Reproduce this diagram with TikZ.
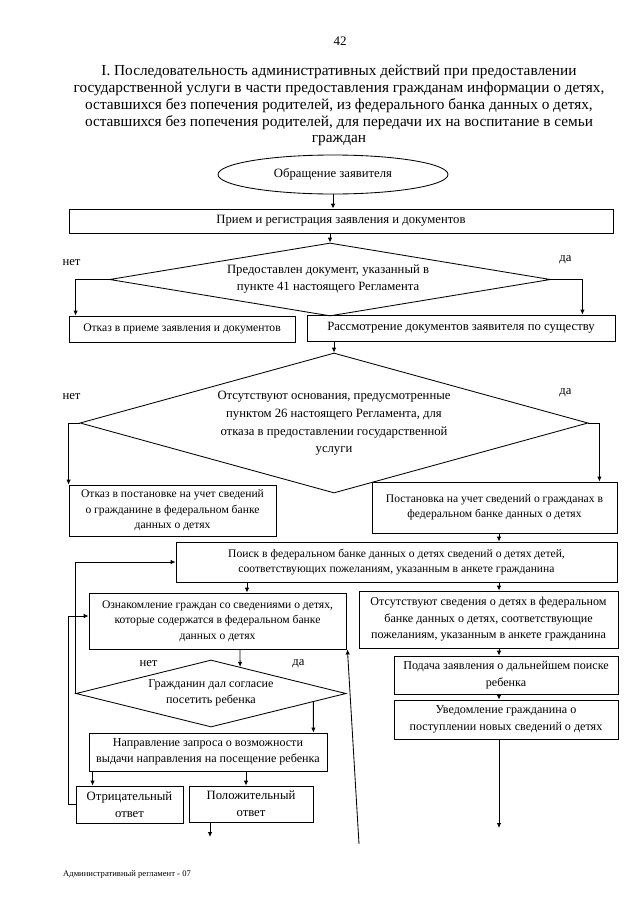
\documentclass[tikz,border=0pt]{standalone}
\usepackage{fontspec}
\setmainfont{Liberation Serif}
\usetikzlibrary{shapes.geometric,arrows.meta,calc}
\newcommand{\fT}{\fontsize{15.3}{16.9}\selectfont}
\newcommand{\fB}{\fontsize{12.7}{17}\selectfont}
\newcommand{\fBB}{\fontsize{12.7}{17.6}\selectfont}
\newcommand{\fM}{\fontsize{12.1}{16.5}\selectfont}
\newcommand{\fS}{\fontsize{11.6}{15.5}\selectfont}
\begin{document}
\begin{tikzpicture}[x=1pt,y=-1pt,
  box/.style={draw, line width=0.85pt, inner sep=0pt, align=center, font=\fS},
  arr/.style={line width=0.85pt, -{Latex[length=5pt,width=4.5pt]}},
  lbl/.style={inner sep=0pt, font=\fS},
  dia/.style={draw, line width=0.85pt, shape=diamond, inner sep=0pt},
]
\path[use as bounding box, fill=white] (0,0) rectangle (640,905);

\node[lbl, font=\fontsize{13}{15}\selectfont] (pg) at (340,41) {42};
\node[lbl, align=center, font=\fT] (title) at (339,105.5) {I. Последовательность административных действий при предоставлении\\государственной услуги в части предоставления гражданам информации о детях,\\оставшихся без попечения родителей, из федерального банка данных о детях,\\оставшихся без попечения родителей, для передачи их на воспитание в семьи\\граждан};

\node[draw, ellipse, line width=0.85pt, minimum width=230pt, minimum height=39pt, inner sep=0pt, font=\fB] (ell) at (333,174.5) {Обращение заявителя};
\node[box, font=\fB, minimum width=544pt, minimum height=24pt] (box1) at (341,221) {Прием и регистрация заявления и документов};
\node[dia, minimum width=441pt, minimum height=73pt] (dia1) at (330,279.5) {};
\node[lbl, font=\fB, align=center] (dia1t) at (328,279) {Предоставлен документ, указанный в\\пункте 41 настоящего Регламента};
\node[lbl,font=\fB] (no1) at (71.5,263) {нет};
\node[lbl,font=\fB] (yes1) at (565.5,260) {да};
\node[box, minimum width=226pt, minimum height=26pt] (b2a) at (182,329) {Отказ в приеме заявления и документов};
\node[box, font=\fB, minimum width=308pt, minimum height=26pt] (b2b) at (461,328) {Рассмотрение документов заявителя по существу};

\node[dia, minimum width=508pt, minimum height=140pt] (dia2) at (334,423) {};
\node[lbl, font=\fBB, align=center] (dia2t) at (334,423.5) {Отсутствуют основания, предусмотренные\\пунктом 26 настоящего Регламента, для\\отказа в предоставлении государственной\\услуги};
\node[lbl,font=\fB] (no2) at (71.5,397) {нет};
\node[lbl,font=\fB] (yes2) at (565.5,393) {да};
\node[box, minimum width=207pt, minimum height=51pt] (b3a) at (172.5,510.5) {Отказ в постановке на учет сведений\\о гражданине в федеральном банке\\данных о детях};
\node[box, minimum width=245pt, minimum height=51pt] (b3b) at (494.5,507.5) {Постановка на учет сведений о гражданах в\\федеральном банке данных о детях};

\node[box, minimum width=441pt, minimum height=40pt] (poisk) at (396.5,562) {Поиск в федеральном банке данных о детях сведений о детях детей,\\соответствующих пожеланиям, указанным в анкете гражданина};
\node[box, minimum width=257pt, minimum height=56pt] (oznak) at (217.5,621) {Ознакомление граждан со сведениями о детях,\\которые содержатся в федеральном банке\\данных о детях};
\node[box, font=\fM, minimum width=259pt, minimum height=57pt] (otsut) at (488.5,619.5) {Отсутствуют сведения о детях в федеральном\\банке данных о детях, соответствующие\\пожеланиям, указанным в анкете гражданина};
\node[box, font=\fM, minimum width=224pt, minimum height=38pt] (podacha) at (506,675) {Подача заявления о дальнейшем поиске\\ребенка};
\node[box, font=\fM, minimum width=224pt, minimum height=39pt] (uved) at (506,719.5) {Уведомление гражданина о\\поступлении новых сведений о детях};

\node[dia, minimum width=270pt, minimum height=67pt] (dia3) at (211,693.5) {};
\node[lbl, font=\fM, align=center] (dia3t) at (211,693) {Гражданин дал согласие\\посетить ребенка};
\node[lbl,font=\fB] (no3) at (148.5,664) {нет};
\node[lbl,font=\fB] (yes3) at (298.5,664) {да};
\node[box, font=\fM, minimum width=238pt, minimum height=38pt] (napr) at (208,752) {Направление запроса о возможности\\выдачи направления на посещение ребенка};
\node[box, font=\fB, minimum width=107pt, minimum height=37pt] (otric) at (129.5,804.5) {Отрицательный\\ответ};
\node[box, font=\fB, minimum width=124pt, minimum height=36pt] (polozh) at (251,804) {Положительный\\ответ};

\node[lbl, anchor=west, font=\fontsize{8.6}{10}\selectfont] (foot) at (63,874) {Административный регламент - 07};

\coordinate (endA) at (210,837);
\coordinate (endB) at (499,828);
\coordinate (loopS) at (359,844);

\draw[arr] (ell.south) -- (ell.south |- box1.north);
\draw[arr] (dia1.north |- box1.south) -- (dia1.north);
\draw[arr] (dia1.west) -| ([xshift=7pt]b2a.north west);
\draw[arr] (dia1.east) -| ([xshift=-33pt]b2b.north east);
\draw[arr] (dia2.north |- b2b.south) -- (dia2.north);
\draw[arr] (dia2.west) -| (b3a.north west);
\draw[arr] (dia2.east) -| ([xshift=-18pt]b3b.north east);
\draw[arr] ([xshift=4.5pt]b3b.south) -- ([xshift=4.5pt]b3b.south |- poisk.north);
\draw[arr] ([xshift=29.5pt]oznak.north |- poisk.south) -- ([xshift=29.5pt]oznak.north);
\draw[arr] ([xshift=10.5pt]otsut.north |- poisk.south) -- ([xshift=10.5pt]otsut.north);
\draw[arr] ([xshift=-7pt]podacha.north |- otsut.south) -- ([xshift=-7pt]podacha.north);
\draw[arr] ([xshift=-7pt]uved.north |- podacha.south) -- ([xshift=-7pt]uved.north);
\draw[arr] ([xshift=-7pt]uved.south) -- (endB);
\draw[arr] ([xshift=22.5pt]oznak.south) -- ($(dia3.north)!0.215!(dia3.east)$);
\draw[arr] (dia3.west) -- (dia3.west |- poisk.west) -- (poisk.west);
\draw[arr] ($(dia3.east)!0.244!(dia3.south)$) -- ([xshift=-14pt]napr.north east);
\draw[arr] ([xshift=4pt]napr.south west) -- ([xshift=4pt]napr.south west |- otric.north);
\draw[arr] ([xshift=38pt]napr.south) -- ([xshift=38pt]napr.south |- polozh.north);
\draw[arr] ([xshift=-41pt]polozh.south) -- (endA);
\draw[arr] (otric.west) -- ++(-7,0) |- ([yshift=5pt]oznak.west);
\draw[arr] (loopS) -- ([xshift=1pt]oznak.south east);
\end{tikzpicture}
\end{document}
